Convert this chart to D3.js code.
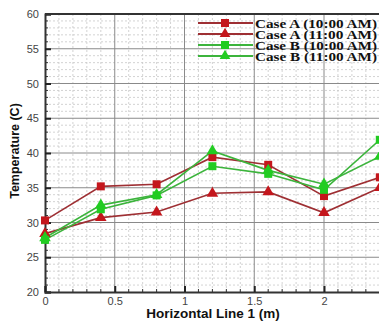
<!DOCTYPE html>
<html><head><meta charset="utf-8">
<script src="https://cdn.jsdelivr.net/npm/d3@7"></script>
<style>body{margin:0;background:#fff;}svg{display:block;}</style>
</head><body>
<script>
const xValues = [0, 0.4, 0.8, 1.2, 1.6, 2.0, 2.4];
const caseA10 = [30.3, 35.2, 35.5, 39.4, 38.3, 33.8, 36.5];
const caseA11 = [28.4, 30.7, 31.5, 34.2, 34.4, 31.4, 35.0];
const caseB10 = [27.5, 31.9, 33.9, 38.1, 37.0, 34.7, 41.9];
const caseB11 = [27.8, 32.5, 34.0, 40.3, 37.5, 35.5, 39.5];
const seriesNames = ["Case A (10:00 AM)", "Case A (11:00 AM)", "Case B (10:00 AM)", "Case B (11:00 AM)"];
const xTicks = [0, 0.5, 1, 1.5, 2];
const yTicks = [20, 25, 30, 35, 40, 45, 50, 55, 60];

const W = 379, H = 323;
const m = {l: 45, t: 14, r: 394, b: 292};
const svg = d3.select("body").append("svg").attr("width", W).attr("height", H);
const x = d3.scaleLinear().domain([0, 2.5]).range([m.l, m.l + 139.5 * 2.5]);
const y = d3.scaleLinear().domain([20, 60]).range([m.b, m.t]);

const series = [
  {name: seriesNames[0], v: caseA10, line: "#9e2f33", fill: "#c4161c", sym: d3.symbolSquare},
  {name: seriesNames[1], v: caseA11, line: "#9e2f33", fill: "#c4161c", sym: d3.symbolTriangle},
  {name: seriesNames[2], v: caseB10, line: "#3cb43c", fill: "#22cc22", sym: d3.symbolSquare},
  {name: seriesNames[3], v: caseB11, line: "#3cb43c", fill: "#22cc22", sym: d3.symbolTriangle}
];

const g = svg.append("g");
// minor grid
const minorX = d3.range(0, 2.51, 0.1).filter(v => Math.abs(v*2 - Math.round(v*2)) > 1e-6);
const minorY = d3.range(20, 60.01, 1).filter(v => v % 5 !== 0);
g.selectAll(".mx").data(minorX).join("line")
  .attr("x1", d => x(d)).attr("x2", d => x(d)).attr("y1", m.t).attr("y2", m.b)
  .attr("stroke", "#c8c8c8").attr("stroke-width", 0.8).attr("stroke-dasharray", "2,2");
g.selectAll(".my").data(minorY).join("line")
  .attr("x1", m.l).attr("x2", W).attr("y1", d => y(d)).attr("y2", d => y(d))
  .attr("stroke", "#c8c8c8").attr("stroke-width", 0.8).attr("stroke-dasharray", "2,2");
// major grid
g.selectAll(".Mx").data(xTicks.filter(d => d > 0)).join("line")
  .attr("x1", d => x(d)).attr("x2", d => x(d)).attr("y1", m.t).attr("y2", m.b)
  .attr("stroke", "#8a8a8a").attr("stroke-width", 1);
g.selectAll(".My").data(yTicks.filter(d => d > 20 && d < 60)).join("line")
  .attr("x1", m.l).attr("x2", W).attr("y1", d => y(d)).attr("y2", d => y(d))
  .attr("stroke", "#8a8a8a").attr("stroke-width", 1);

// axes
const yAxis = d3.axisLeft(y).tickValues(yTicks).tickSize(-6).tickPadding(6);
const xAxis = d3.axisBottom(x).tickValues(xTicks).tickSize(-6).tickPadding(5).tickFormat(d3.format("~g"));
const ya = svg.append("g").attr("transform", `translate(${m.l},0)`).call(yAxis);
const xa = svg.append("g").attr("transform", `translate(0,${m.b})`).call(xAxis);
[ya, xa].forEach(a => {
  a.select(".domain").attr("stroke", "#333").attr("stroke-width", 2);
  a.selectAll(".tick line").attr("stroke", "#222").attr("stroke-width", 2);
  a.selectAll(".tick text").attr("font-family", "Liberation Sans, Arial, sans-serif").attr("font-size", 11).attr("fill", "#444");
});
// minor inward ticks
svg.append("g").selectAll("line").data(minorY).join("line")
  .attr("x1", m.l).attr("x2", m.l + 3).attr("y1", d => y(d)).attr("y2", d => y(d))
  .attr("stroke", "#333").attr("stroke-width", 1);
svg.append("g").selectAll("line").data(minorX).join("line")
  .attr("x1", d => x(d)).attr("x2", d => x(d)).attr("y1", m.b).attr("y2", m.b - 3)
  .attr("stroke", "#333").attr("stroke-width", 1);
// top border
svg.append("line").attr("x1", m.l).attr("x2", W).attr("y1", m.t).attr("y2", m.t)
  .attr("stroke", "#333").attr("stroke-width", 2);

// series
const line = d3.line().x((d, i) => x(xValues[i])).y(d => y(d));
series.forEach(s => {
  svg.append("path").datum(s.v).attr("d", line).attr("fill", "none")
    .attr("stroke", s.line).attr("stroke-width", 1.6);
});
series.forEach(s => {
  svg.append("g").selectAll("path").data(s.v).join("path")
    .attr("transform", (d, i) => `translate(${x(xValues[i])},${y(d)})`)
    .attr("d", d3.symbol().type(s.sym).size(s.sym === d3.symbolSquare ? 64 : 58))
    .attr("fill", s.fill);
});

// legend
const lg = svg.append("g");
const rowsY = [23, 34, 45, 56];
series.forEach((s, i) => {
  const yy = rowsY[i];
  lg.append("line").attr("x1", 198).attr("x2", 253).attr("y1", yy).attr("y2", yy)
    .attr("stroke", s.line).attr("stroke-width", 2);
  lg.append("path").attr("transform", `translate(225,${yy})`)
    .attr("d", d3.symbol().type(s.sym).size(s.sym === d3.symbolSquare ? 64 : 50)).attr("fill", s.fill);
  lg.append("text").attr("x", 255).attr("y", yy + 4.5).text(s.name)
    .attr("font-family", "Liberation Serif, Times New Roman, serif").attr("font-weight", "bold")
    .attr("font-size", 12.5).attr("textLength", 122).attr("lengthAdjust", "spacingAndGlyphs")
    .attr("fill", "#111");
});

// axis titles
svg.append("text").attr("x", 213).attr("y", 318).attr("text-anchor", "middle")
  .attr("font-family", "Liberation Sans, Arial, sans-serif").attr("font-weight", "bold").attr("font-size", 13.5)
  .attr("fill", "#111").text("Horizontal Line 1 (m)");
svg.append("text").attr("transform", "translate(19,151) rotate(-90)").attr("text-anchor", "middle")
  .attr("font-family", "Liberation Sans, Arial, sans-serif").attr("font-weight", "bold").attr("font-size", 12.5)
  .attr("fill", "#111").text("Temperature (C)");
</script>
</body></html>
